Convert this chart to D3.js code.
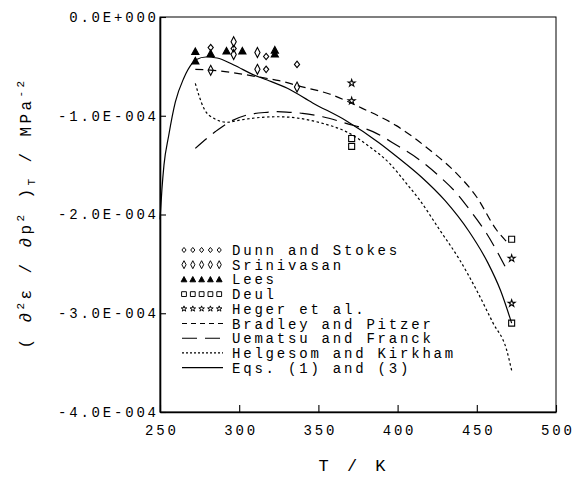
<!DOCTYPE html>
<html><head><meta charset="utf-8">
<script src="https://cdn.jsdelivr.net/npm/d3@7"></script>
<style>
body{margin:0;background:#fff}
svg{display:block}
text{font-family:"Liberation Mono","DejaVu Sans Mono",monospace;fill:#000}
</style>
</head><body>
<svg id="c" width="574" height="478"></svg>
<script>
// ---------- data (y values in units of 1E-004 MPa^-2) ----------
const xTicks = [250, 300, 350, 400, 450, 500];
const yTicks = [0, -1, -2, -3, -4];
const yTickLabels = ["0.0E+000", "-1.0E-004", "-2.0E-004", "-3.0E-004", "-4.0E-004"];

const dunnStokes = [[282, -0.31], [296.5, -0.32], [317, -0.40], [317, -0.53], [336.5, -0.48]];
const srinivasan = [[282, -0.54], [296.5, -0.25], [296.5, -0.38], [311.5, -0.36], [311.5, -0.53], [336.5, -0.71]];
const lees = [[272.3, -0.35], [272.3, -0.445], [282, -0.37], [292, -0.345], [302, -0.345], [322.5, -0.335], [322.5, -0.375]];
const deul = [[371, -1.23], [371, -1.31], [472, -2.25], [472, -3.10]];
const heger = [[371, -0.67], [371, -0.85], [472, -2.445], [472, -2.90]];

const bradleyPitzer = [[272.3, -0.53], [281.8, -0.537], [298.7, -0.57], [311.4, -0.605], [325.3, -0.645], [338, -0.70], [357, -0.78],
  [377.7, -0.925], [399.2, -1.10], [420.3, -1.347], [437.2, -1.583], [449.8, -1.82], [462.5, -2.157], [468.8, -2.275]];
const uematsuFranck = [[272.3, -1.33], [285, -1.16], [292.4, -1.077], [305, -0.992], [317.7, -0.965], [324, -0.959], [331.6, -0.965],
  [340, -0.975], [352.7, -1.01], [367.5, -1.077], [384.4, -1.161], [399.2, -1.296], [413.9, -1.448], [426.6, -1.617], [437, -1.78],
  [445.6, -1.954], [456.1, -2.19], [464.6, -2.427], [468, -2.53]];
const helgesomKirkham = [[272.3, -0.672], [274.5, -0.79], [277.7, -0.925], [284, -1.026], [292.4, -1.066], [300.8, -1.043],
  [311.4, -1.02], [324, -1.01], [338, -1.026], [352.7, -1.077], [367.5, -1.161], [382.3, -1.313], [394.9, -1.482], [405.5, -1.684],
  [413.9, -1.853], [426.6, -2.157], [439.2, -2.46], [449.8, -2.765], [460.3, -3.10], [468.8, -3.37], [472, -3.58]];
const eqs13 = [[250, -2.05], [251.2, -1.75], [252.5, -1.5], [255.5, -1.2], [259.7, -0.86], [265, -0.62], [270.3, -0.47], [273, -0.43],
  [279, -0.405], [286, -0.415], [296.6, -0.486], [309.3, -0.587], [317.7, -0.638], [330.4, -0.722], [346.4, -0.87], [367.5, -1.05],
  [388, -1.27], [400, -1.42], [415, -1.62], [430, -1.86], [445, -2.17], [457, -2.49], [465, -2.77], [472, -3.10]];

const legendLabels = ["Dunn and Stokes", "Srinivasan", "Lees", "Deul", "Heger et al.",
  "Bradley and Pitzer", "Uematsu and Franck", "Helgesom and Kirkham", "Eqs. (1) and (3)"];

// ---------- drawing ----------
const svg = d3.select("#c");
const x = d3.scaleLinear().domain([250, 500]).range([160, 556]);
const y = d3.scaleLinear().domain([-4, 0]).range([412, 17]);

const FS = 14, LS = 2.8;

// frame
svg.append("rect").attr("x", 160).attr("y", 17).attr("width", 396).attr("height", 395)
  .attr("fill", "none").attr("stroke", "#000").attr("stroke-width", 1);

// x axis
const gx = svg.append("g").attr("transform", "translate(0,412)")
  .call(d3.axisBottom(x).tickValues(xTicks).tickSize(-7).tickSizeOuter(0).tickPadding(13).tickFormat(d3.format("d")));
gx.select(".domain").attr("stroke-width", 1.6);
gx.selectAll("line").attr("stroke-width", 1.1);
gx.selectAll("text").attr("font-size", FS).style("letter-spacing", LS + "px")
  .attr("dx", LS / 2).attr("font-family", null);

// y axis
const gy = svg.append("g").attr("transform", "translate(160,0)")
  .call(d3.axisLeft(y).tickValues(yTicks).tickSize(-6).tickSizeOuter(0).tickPadding(4)
    .tickFormat((d, i) => yTickLabels[i]));
gy.select(".domain").attr("stroke-width", 1.6);
gy.selectAll("line").attr("stroke-width", 1.1);
gy.selectAll("text").attr("font-size", FS).style("letter-spacing", LS + "px").attr("font-family", null)
  .attr("dx", LS);

// curves
const line = d3.line().x(d => x(d[0])).y(d => y(d[1])).curve(d3.curveMonotoneX);
const curves = [
  {data: bradleyPitzer, dash: "8,5"},
  {data: uematsuFranck, dash: "15,8"},
  {data: helgesomKirkham, dash: "2.5,2.5"},
  {data: eqs13, dash: null}
];
curves.forEach(c => {
  svg.append("path").attr("d", line(c.data)).attr("fill", "none").attr("stroke", "#000")
    .attr("stroke-width", 1.2).attr("stroke-dasharray", c.dash);
});

// marker shapes
const shapes = {
  dunn: {d: "M0,-3.2L2.6,0L0,3.2L-2.6,0Z", fill: "none"},
  srin: {d: "M0,-5L2.6,0L0,5L-2.6,0Z", fill: "none"},
  lees: {d: "M0,-3.6L3.6,3L-3.6,3Z", fill: "#000"},
  deul: {d: "M-3,-3H3V3H-3Z", fill: "none"},
  heger: {d: d3.symbol(d3.symbolStar, 15)(), fill: "none"}
};
function drawMarkers(data, shape) {
  svg.append("g").selectAll("path").data(data).join("path")
    .attr("transform", d => `translate(${x(d[0])},${y(d[1])})`)
    .attr("d", shapes[shape].d).attr("fill", shapes[shape].fill)
    .attr("stroke", "#000").attr("stroke-width", 1.1);
}
drawMarkers(dunnStokes, "dunn");
drawMarkers(srinivasan, "srin");
drawMarkers(lees, "lees");
drawMarkers(deul, "deul");
drawMarkers(heger, "heger");

// legend
const legX0 = 184, legX1 = 222, legTextX = 232, legY0 = 250, legDY = 14.7;
const legShapes = ["dunn", "srin", "lees", "deul", "heger"];
const legDash = ["5,4", "15,8", "2,2", null];
const lg = svg.append("g");
legendLabels.forEach((lab, i) => {
  const cy = legY0 + i * legDY;
  if (i < 5) {
    const sh = shapes[legShapes[i]];
    for (let k = 0; k < 5; k++) {
      lg.append("path").attr("transform", `translate(${legX0 + k * 8.8},${cy}) scale(0.8)`)
        .attr("d", sh.d).attr("fill", sh.fill).attr("stroke", "#000").attr("stroke-width", 1.2);
    }
  } else {
    lg.append("line").attr("x1", legX0 - 2).attr("x2", legX1 + 1).attr("y1", cy).attr("y2", cy)
      .attr("stroke", "#000").attr("stroke-width", 1.1).attr("stroke-dasharray", legDash[i - 5]);
  }
  lg.append("text").attr("x", legTextX).attr("y", cy + 5).attr("font-size", FS)
    .style("letter-spacing", LS + "px").text(lab);
});

// axis titles
svg.append("text").attr("x", 354).attr("y", 471).attr("text-anchor", "middle")
  .attr("font-size", 17).style("letter-spacing", "4px").text("T / K");

const yt = svg.append("text").attr("transform", "translate(31,213) rotate(-90)")
  .attr("text-anchor", "middle").attr("font-size", 16).style("letter-spacing", "3.4px");
yt.append("tspan").text("( \u2202");
yt.append("tspan").attr("dy", -7).attr("font-size", 11).text("2");
yt.append("tspan").attr("dy", 7).text("\u03b5 / \u2202p");
yt.append("tspan").attr("dy", -7).attr("font-size", 11).text("2");
yt.append("tspan").attr("dy", 7).text(" )");
yt.append("tspan").attr("dy", 4).attr("font-size", 11).text("T");
yt.append("tspan").attr("dy", -4).text(" / MPa");
yt.append("tspan").attr("dy", -7).attr("font-size", 11).text("-2");
</script>
</body></html>
